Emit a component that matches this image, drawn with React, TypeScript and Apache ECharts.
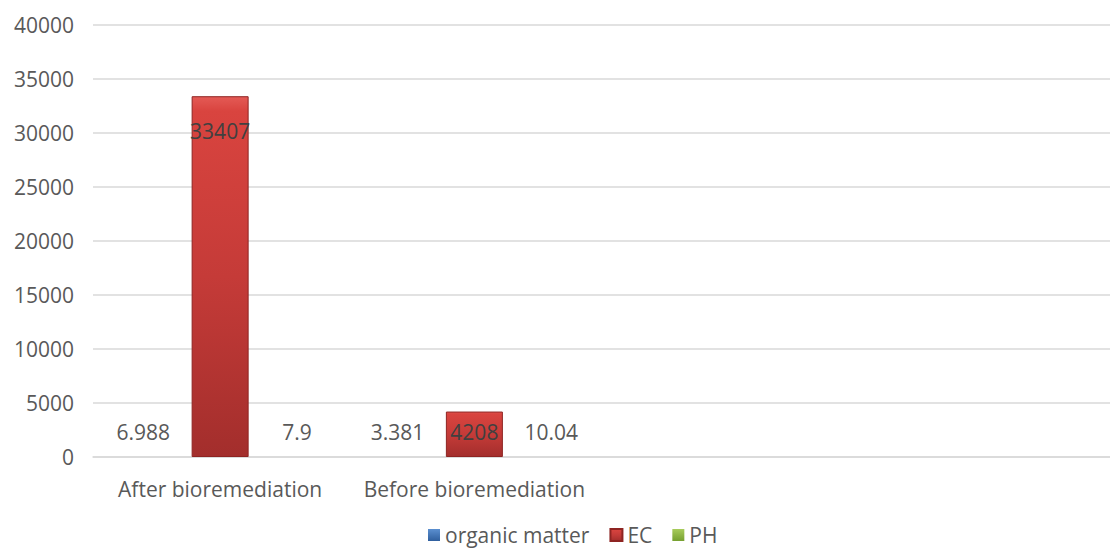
import React, { useEffect, useRef } from "react";
import * as echarts from "echarts";

const categories = ["After bioremediation", "Before bioremediation", "", ""];
const organicMatter = [6.988, 3.381, null, null];
const ec = [33407, 4208, null, null];
const ph = [7.9, 10.04, null, null];
const ecLabelDistance = [24, 10];

const FONT = "'Open Sans', 'Noto Sans', sans-serif";
const TEXT = "#595959";
const FS = 21;

function grad(stops: [number, string][]) {
  return new echarts.graphic.LinearGradient(
    0,
    0,
    0,
    1,
    stops.map(([offset, color]) => ({ offset, color }))
  );
}

export default function App() {
  const ref = useRef<HTMLDivElement>(null);
  useEffect(() => {
    if (!ref.current) return;
    const chart = echarts.init(ref.current, null, { renderer: "svg" });
    const smallLabel = {
      show: true,
      position: "top" as const,
      distance: 14,
      color: TEXT,
      fontSize: FS,
      fontFamily: FONT,
    };
    chart.setOption({
      animation: false,
      grid: { left: 93, top: 25, width: 1030, bottom: 93, containLabel: false },
      legend: {
        left: 428,
        top: 524,
        padding: 0,
        itemWidth: 12,
        itemHeight: 12,
        itemGap: 20,
        icon: "rect",
        textStyle: { color: TEXT, fontSize: FS, fontFamily: FONT, lineHeight: 22 },
        data: ["organic matter", "EC", "PH"],
      },
      xAxis: {
        type: "category",
        data: categories,
        axisLine: { show: true, lineStyle: { color: "#d9d9d9", width: 1.5 } },
        axisTick: { show: false },
        axisLabel: {
          color: TEXT,
          fontSize: FS,
          fontFamily: FONT,
          margin: 21,
          interval: 0,
        },
      },
      yAxis: {
        type: "value",
        min: 0,
        max: 40000,
        interval: 5000,
        axisLine: { show: false },
        axisTick: { show: false },
        splitLine: { lineStyle: { color: "#d9d9d9", width: 1.5 } },
        axisLabel: {
          color: TEXT,
          fontSize: FS,
          fontFamily: FONT,
          margin: 19,
          formatter: (v: number) => String(v),
        },
      },
      series: [
        {
          name: "organic matter",
          type: "bar",
          data: organicMatter,
          barWidth: 57,
          barGap: "35%",
          itemStyle: { color: grad([[0, "#5b8fd0"], [1, "#2f5f9e"]]) },
          label: smallLabel,
        },
        {
          name: "EC",
          type: "bar",
          data: ec.map((v, i) => ({
            value: v,
            label: { distance: ecLabelDistance[i] ?? 10 },
          })),
          barWidth: 57,
          barGap: "35%",
          itemStyle: {
            color: grad([
              [0, "#e45a55"],
              [0.04, "#d9443f"],
              [0.5, "#c53b38"],
              [1, "#a32e2c"],
            ]),
            borderColor: "#8e2422",
            borderWidth: 1,
          },
          label: {
            show: true,
            position: "insideTop",
            color: "#404040",
            fontSize: FS,
            fontFamily: FONT,
          },
        },
        {
          name: "PH",
          type: "bar",
          data: ph,
          barWidth: 57,
          barGap: "35%",
          itemStyle: { color: grad([[0, "#a8cc5c"], [1, "#76a030"]]) },
          label: smallLabel,
        },
      ],
    });
    return () => chart.dispose();
  }, []);
  return (
    <div
      ref={ref}
      style={{ position: "fixed", left: 0, top: 0, width: 1110, height: 550, background: "#fff" }}
    />
  );
}
